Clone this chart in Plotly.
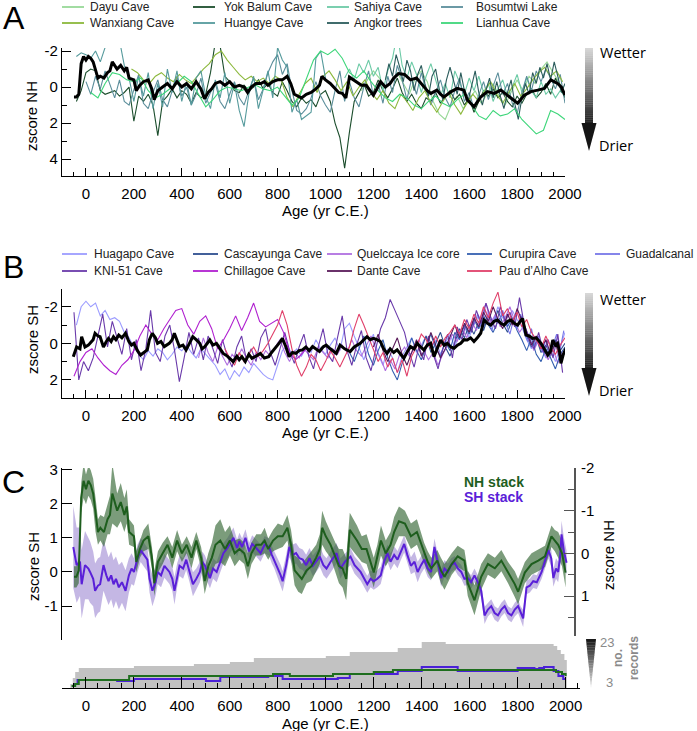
import plotly.graph_objects as go

# ======================= DATA =======================
AGE_TICKS = [0, 200, 400, 600, 800, 1000, 1200, 1400, 1600, 1800, 2000]

# ---- Panel A: NH records (z-score, positive = drier); start year, step, values
DAYU_START, DAYU_STEP = 1150, 25
DAYU = [0.2, -0.4, -0.9, -0.5, 0.1, -0.3, -0.8, -0.2, 0.4, -0.5,
        -0.9, -0.3, 0.8, 1.5, 1.8, 1.0, 0.5, 1.2, 0.7, 0.2,
        0.9, 0.4, -0.2, 0.5, 1.0, 0.3, -0.4, 0.2, -0.6, -0.2,
        -1.0, -1.4, -0.8, -0.3, 0.4]

YOK_START, YOK_STEP = -40, 20
YOK_BALUM = [0.8, 0.2, -0.8, -1.0, -0.9, 0.2, 0.4, 0.3, 0.2, 0.5,
             0.3, 0.0, 1.9, 0.5, 0.8, 0.4, 1.0, 2.7, 0.8, 0.5,
             0.1, 0.6, 0.2, 0.4, 0.9, 0.3, 0.6, 0.4, -0.8, -2.5,
             -2.3, -0.6, -0.3, 0.2, 0.3, -0.1, 0.2, 0.0, -0.4, 0.1,
             -0.2, 0.3, 0.5, -0.3, 0.2, 0.8, 1.1, 0.6, 0.9, 0.7,
             1.1, 0.4, 0.2, 0.8, 2.0, 2.8, 4.5, 2.5, 0.8, 0.3,
             -0.2, 0.5, 0.3, -0.4, 0.2, 0.6, 0.1, -0.5, 0.3, 0.8,
             0.4, 0.9, 1.2, 0.6, 0.8, 0.3, 0.9, 0.5, 0.2, 0.7,
             0.4, 1.0, 0.6, 1.4, 0.8, 0.2, 0.5, 0.1, 0.6, 0.3,
             0.8, 1.1, 0.5, 0.9, 0.4, 0.1, 0.6, 0.3, -0.2, 0.4,
             -0.5, 0.1, 0.6]

SAHIYA_START, SAHIYA_STEP = 1080, 20
SAHIYA = [-0.5, -1.0, -0.4, -1.3, -0.8, -1.5, -0.6, -1.1, 0.2, -0.9,
          -1.6, -3.0, -1.2, -0.5, -1.4, -0.7, 0.3, -0.6, -1.3, -0.4,
          0.5, -0.2, 0.6, -0.9, -0.3, 0.4, -0.5, 0.2, -0.6, 0.3,
          -0.2, 0.8, 0.1, -0.4, 0.5, 0.0, -0.7, 0.3, -0.5, 0.2,
          0.6, -0.3, 0.4, 0.1, 0.6, 0.2, 0.5]

BOSUMTWI_START, BOSUMTWI_STEP = 0, 20
BOSUMTWI = [-0.3, 0.4, -0.6, 0.1, -0.9, -0.2, 0.6, -0.4, 0.8, 1.0,
            0.2, -0.7, 0.9, 1.2, 0.3, -0.4, 0.7, 1.1, 0.2, -0.6,
            0.5, 0.0, 1.0, 0.4, -0.5, 0.9, 0.3, -0.2, 0.8, 1.2,
            0.4, -0.3, 0.6, 1.0, 0.2, -0.5, 0.7, 0.1, -0.8, -1.4,
            -1.8, -0.7, -1.3, 0.2, 1.3, 1.5, 1.2, 0.6, -0.3, 0.5,
            1.0, 1.4, 0.2, -0.9, 0.8, -0.3, 0.6, 1.1, 0.0, -0.9,
            0.5, -0.2, 0.9, -0.6, 0.3, -1.2, -0.4, 0.7, -0.5, 0.4,
            -0.8, 0.2, 1.0, 0.3, -0.4, 0.6, 1.1, 0.2, -0.5, 0.8,
            0.3, 1.2, 0.5, -0.3, 0.7, 0.0, -0.8, 0.4, -0.2, 0.9,
            1.5, 0.3, -0.6, 0.2, -0.9, -0.3, -1.0, -0.5, 0.1, -0.7,
            0.9]

WANXIANG_START, WANXIANG_STEP = 190, 25
WANXIANG = [-1.0, -0.8, -0.4, -0.2, -0.6, -0.8, -0.5, -0.3, -0.7, -0.4,
            -0.2, -0.6, -1.0, -1.3, -1.8, -2.0, -1.5, -1.1, -0.7, -0.4,
            -0.6, -0.3, -0.5, -0.2, -0.6, -0.4, 0.6, 1.1, 0.4, -0.2,
            -0.5, 0.3, -0.6, -0.9, -0.4, 0.2, -0.3, 0.5, 0.0, -0.4,
            0.3, 0.7, 0.2, 0.9, 1.2, 0.4, 0.8, 1.3, 0.6, 0.2,
            0.9, 1.4, 0.8, 0.3, 1.0, 1.5, 0.9, 0.4, 0.8, 0.2,
            -0.3, 0.4, 0.9, 0.3, -0.2, 0.5, 0.1, -0.4, -0.8, -1.1,
            -0.6, -0.9, -0.3]

HUANGYE_START, HUANGYE_STEP = -40, 20
HUANGYE = [-1.7, -1.9, -1.8, -1.6, -2.0, -1.4, -2.2, -3.0, -2.2, -2.6,
           -1.2, -0.5, 0.8, -0.6, 0.5, -0.8, 1.2, -0.2, 1.1, -1.0,
           0.3, -0.9, 0.8, -0.3, 1.0, -0.5, -0.9, 0.5, 1.2, -0.4,
           0.6, -0.8, 0.9, -0.2, 1.3, 2.2, 0.4, -0.6, 1.2, 0.1,
           -0.9, 0.6, -2.2, -1.5, -1.1, 1.4, 0.7, 1.8, 1.6, 1.4,
           -1.6, -2.0, -0.5]

ANGKOR_START, ANGKOR_STEP = 1250, 15
ANGKOR = [-0.4, -1.3, -0.6, -1.8, -1.1, -0.3, -1.5, -0.9, 0.2, -0.7,
          -1.2, -0.2, 0.5, -0.6, -1.0, 0.1, 0.7, -0.4, -1.1, -0.3,
          0.4, -0.8, 0.2, 0.8, -0.1, -0.9, 0.3, 1.0, 0.2, -0.5,
          0.6, -0.3, 0.5, 1.2, 0.3, -0.4, 0.9, 1.8, 0.6, -0.2,
          0.4, -0.8, -0.2, -1.1, -0.5, -1.3, -0.4, -1.4, -0.6, 0.3,
          -0.2]

LIANHUA_START, LIANHUA_STEP = 20, 30
LIANHUA = [0.3, 0.6, -0.2, -0.8, -0.7, -0.4, -0.3, -0.5, 0.2, 0.6,
           0.4, 0.1, -0.2, -0.6, -0.3, 0.4, 1.1, 0.7, 0.2, 0.0,
           0.1, 0.2, 0.0, -0.1, 0.1, 0.2, 0.0, 0.5, 1.0, 0.6,
           -0.5, -1.5, -2.0, -1.8, -2.1, -1.6, -0.8, -0.5, -0.9, -0.3,
           0.2, 0.6, 0.8, 0.4, 0.6, 1.0, 1.2, 0.8, 0.5, 0.9,
           1.1, 0.7, 0.4, 1.0, 1.6, 1.8, 1.3, 1.6, 1.5, 1.2,
           1.8, 2.2, 2.6, 2.4, 1.3, 1.5, 1.8]

# ---- NH stack (black in A, green in C) with uncertainty
NH_YEARS = [-50, -40, -30, -20, -10, 0, 10, 20, 30, 40,
            50, 60, 75, 90, 100, 110, 120, 130, 145, 160,
            170, 180, 200, 210, 225, 240, 260, 275, 285, 300,
            320, 340, 360, 380, 400, 420, 440, 460, 480, 495,
            510, 525, 540, 560, 580, 600, 620, 640, 660, 675,
            690, 710, 730, 745, 760, 780, 800, 820, 840, 855,
            870, 885, 900, 920, 940, 960, 975, 985, 1000, 1020,
            1040, 1055, 1070, 1085, 1100, 1130, 1150, 1170, 1200, 1215,
            1230, 1250, 1270, 1285, 1305, 1330, 1355, 1380, 1410, 1425,
            1440, 1465, 1480, 1495, 1525, 1550, 1578, 1592, 1620, 1648,
            1676, 1705, 1732, 1760, 1788, 1802, 1830, 1858, 1886, 1914,
            1941, 1955, 1969, 1985, 2000]
NH_STACK = [0.55, 0.55, 0.4, -1.3, -1.7, -1.5, -1.7, -1.6, -1.4, -0.9,
            -0.5, -0.6, -0.5, -0.8, -0.9, -1.4, -1.2, -1.0, -1.2, -0.9,
            -1.1, -0.5, -0.4, 0.2, -0.1, -0.3, -0.4, 0.1, 0.7, 0.2,
            0.0, -0.2, 0.1, -0.3, 0.0, -0.2, 0.1, -0.3, 0.1, 0.65,
            0.3, 0.1, -0.2, -0.3, -0.1, -0.3, 0.0, -0.1, 0.0, 0.3,
            0.0, -0.2, -0.2, -0.3, -0.1, -0.3, -0.4, -0.4, -0.6, -0.2,
            0.4, 0.5, 0.6, 0.4, 0.3, 0.1, -0.1, -0.6, -0.4, -0.2,
            0.1, 0.3, 0.35, 0.6, -0.55, -0.3, -0.1, -0.1, 0.45, 0.1,
            -0.3, 0.0, -0.2, -0.5, -0.75, -0.7, -0.4, -0.5, 0.0, 0.2,
            0.35, 0.17, 0.4, 0.55, 0.25, 0.07, 0.17, 0.7, 1.1, 0.55,
            0.25, 0.35, 0.17, 0.45, 0.72, 0.9, 0.45, 0.25, 0.17, 0.07,
            -0.4, -0.3, -0.2, 0.0, 0.45]
NH_ERR = [0.25, 0.25, 0.3, 0.35, 0.4, 0.35, 0.35, 0.35, 0.35, 0.4,
          0.3, 0.3, 0.35, 0.35, 0.45, 0.7, 0.55, 0.4, 0.45, 0.4,
          0.4, 0.3, 0.25, 0.25, 0.2, 0.25, 0.3, 0.25, 0.3, 0.25,
          0.25, 0.2, 0.25, 0.25, 0.2, 0.2, 0.25, 0.2, 0.25, 0.3,
          0.3, 0.35, 0.45, 0.5, 0.4, 0.35, 0.3, 0.25, 0.25, 0.3,
          0.25, 0.25, 0.25, 0.3, 0.25, 0.25, 0.3, 0.25, 0.3, 0.35,
          0.35, 0.4, 0.35, 0.3, 0.35, 0.3, 0.35, 0.4, 0.35, 0.3,
          0.35, 0.4, 0.45, 0.5, 0.4, 0.35, 0.3, 0.35, 0.35, 0.3,
          0.35, 0.3, 0.3, 0.35, 0.35, 0.3, 0.3, 0.3, 0.25, 0.25,
          0.25, 0.25, 0.3, 0.3, 0.25, 0.25, 0.25, 0.3, 0.35, 0.3,
          0.25, 0.25, 0.25, 0.25, 0.3, 0.3, 0.25, 0.25, 0.25, 0.25,
          0.25, 0.25, 0.3, 0.3, 0.35]

# ---- Panel B: SH records
HUAGAPO_START, HUAGAPO_STEP = -40, 20
HUAGAPO = [-1.0, -2.0, -2.3, -2.0, -2.2, -1.5, -1.8, -1.3, -1.4, -1.2,
           -0.6, -0.3, 0.2, 0.6, 0.9, 0.4, 0.7, 0.3, 0.5, 0.9,
           0.6, 0.2, 0.4, 0.1, 0.5, 0.8, 0.3, 0.6, 0.9, 1.2,
           1.7, 1.4, 2.0, 1.5, 1.8, 1.3, 1.6, 1.1, 1.4, 1.7,
           1.9, 2.0, 1.2, 0.4, 0.1, 0.6, 0.3, 0.7, 0.2, 0.5,
           -0.2, 0.3, 0.6, 0.1, -0.3, 0.4, -0.8, -1.1, -0.4, 0.3,
           0.9, 0.2, -0.5, 0.6, 1.2, 0.3, 0.8, 1.6, 0.7, 0.2,
           -0.3, 0.5, 0.1, -0.4, 0.3, -0.2, 0.6, 0.0, -0.5, 0.2,
           -0.6, -0.9, -0.3, -1.1, -1.5, -0.8, -1.7, -1.2, -2.0, -1.4,
           -1.0, -1.8, -1.3, -0.9, -0.2, 0.3, -0.4, 0.2, 0.8, 0.4,
           1.0, 0.2, -0.6]

CASCAYUNGA_START, CASCAYUNGA_STEP = 1400, 20
CASCAYUNGA = [0.3, -0.4, 0.5, 0.0, -0.6, 0.2, 0.7, -0.1, -0.8, -0.3,
              -1.0, -0.5, -1.2, -0.7, -1.5, -1.0, -1.8, -1.1, -0.6, -1.3,
              -0.8, -1.5, -0.4, 0.2, -0.3, 0.5, 0.1, 0.7, -0.2, 0.4,
              0.0]

QUELCCAYA_START, QUELCCAYA_STEP = 470, 20
QUELCCAYA = [0.8, -0.3, 0.5, 1.0, 0.2, 0.7, 1.2, 0.6, 0.9, 0.3,
             0.8, 1.2, 0.5, 0.9, 0.4, 0.7, 0.2, -0.2, 0.5, 1.0,
             0.4, 0.8, 0.3, 0.6, 0.9, 0.2, 0.5, 0.8, 0.3, 0.6,
             0.1, 0.5, -0.2, 0.4, 0.7, 0.1, -0.4, 0.3, 0.8, 1.5,
             0.9, 1.4, 0.6, 0.2, 0.7, 0.3, -0.2, 0.4, 0.9, 0.5,
             1.2, 0.6, 0.1, -0.5, -0.1, -0.8, -0.3, -1.2, -0.7, -1.5,
             -2.2, -1.1, -1.6, -0.9, -1.4, -2.0, -1.2, -0.6, -1.0, -0.3,
             0.4, -0.2, 0.5, 0.9, 0.3, 1.1, 0.4]

CURUPIRA_START, CURUPIRA_STEP = 1100, 20
CURUPIRA = [0.5, 1.0, 0.3, -0.4, 0.6, 1.2, 0.4, -0.2, 0.8, 1.5,
            2.0, 1.1, 0.5, -0.3, 0.4, 0.9, 0.2, -0.5, 0.3, 0.7,
            -0.1, 0.4, -0.6, -0.2, -1.0, -0.5, -1.3, -0.8, -1.5, -1.0,
            -0.6, -1.2, -1.6, -0.9, -1.4, -0.7, -0.2, 0.4, -0.3, 0.6,
            1.0, 0.3, 0.8, 1.4, 0.6, 0.2]

GUADALCANAL_START, GUADALCANAL_STEP = 1620, 15
GUADALCANAL = [-1.0, -1.6, -0.9, -1.9, -1.3, -0.7, -1.5, -1.1, -1.8, -1.0,
               -0.5, -1.3, -0.8, -1.6, -0.6, -0.1, -0.8, 0.2, -0.4, 0.5,
               -0.2, 0.6, 0.1, -0.5, 0.3, -0.7]

KNI51_START, KNI51_STEP = -50, 20
KNI51 = [-1.7, 2.0, 1.0, 1.5, 0.8, -0.5, -1.6, 0.2, -1.2, -0.3,
         0.6, -0.8, 0.9, -0.2, 1.5, 0.3, -1.8, 0.5, 1.0, -0.4,
         -1.0, 0.4, 2.1, 0.8, -0.6, 0.6, -0.3, 0.9, -0.4, 0.3,
         1.1, -0.2, 0.7, 1.3, 0.2, -0.4, 0.9, 0.3, 1.0, -0.3,
         -0.8, 0.5, 1.2, 0.3, -0.6, 0.4, 1.1, 0.2, -0.5, 0.7,
         1.4, 0.2, -0.8, 0.6, 1.0, -0.3, -1.5, 0.4, 1.2, 0.1,
         -0.7, 0.8, 1.5, 0.3, -0.8, -1.4, -2.4, -1.8, -1.2, -0.6,
         0.5, 1.3, 0.2, 0.9, -0.4, 0.6, 1.4, 0.3, -0.5, 0.8,
         -0.9, -0.2, -1.3, -0.6, -1.8, -1.1, -2.2, -1.4, -0.8, -2.0,
         -1.2, -1.7, -0.9, -2.5, -1.0, -0.4, 0.3, -0.6, 0.5, -0.2,
         0.8, -0.5, 1.6]

CHILLAGOE_START, CHILLAGOE_STEP = -50, 25
CHILLAGOE = [1.8, 1.0, 0.5, 0.3, 0.8, 1.2, 1.5, 1.7, 1.2, 0.9,
             0.4, -0.4, -1.0, -0.5, -0.2, -0.8, -1.3, -1.8, -1.9, -1.0,
             -0.5, -1.2, -1.5, -0.8, 0.3, -0.2, -0.8, -1.5, -0.7, -1.4,
             -2.2, -1.2, -0.9, -1.1, -1.3, -0.6, 0.5, 0.9, 0.6, 0.2]

DANTE_START, DANTE_STEP = 1200, 20
DANTE = [0.2, -0.5, 0.4, 1.0, 0.3, -0.3, 0.6, 1.2, 0.5, -0.2,
         0.7, 0.2, -0.6, 0.1, 0.8, 0.3, -0.4, -1.0, -0.3, -1.1,
         -0.6, -1.4, -0.9, -1.7, -1.2, -2.0, -1.3, -0.8, -1.6, -1.0,
         -1.9, -1.2, -0.5, 0.1, -0.4, 0.3, -0.2, 0.6, 0.0, 0.9,
         0.4]

PAU_START, PAU_STEP = 580, 20
PAU_DALHO = [0.3, 0.8, 1.2, 0.5, 1.0, 0.6, 0.2, 0.7, 0.4, 0.0,
             -0.5, -1.0, -1.8, -1.0, 0.3, 1.2, 1.8, 1.3, 0.6, 0.9,
             1.5, 1.0, 0.4, 0.8, 1.3, 0.7, 0.2, -0.8, -1.6, -1.0,
             -0.3, 0.4, 1.0, 0.5, 1.3, 0.8, 1.6, 0.9, 1.8, 0.7,
             0.2, -0.5, -0.2, 0.3, -0.4, 0.2, -0.3, -0.6, -1.0, -0.5,
             -1.3, -0.8, -1.6, -1.1, -2.0, -1.4, -2.2, -2.8, -1.5, -1.9,
             -1.2, -1.7, -0.9, -1.3, -0.6, -0.2, 0.3, -0.4, 0.2, 0.6,
             0.1, -0.3]

# ---- SH stack (black in B, purple in C) with uncertainty
SH_YEARS = [-53, -39, -25, -18, -4, 10, 17, 30, 38, 50,
            59, 73, 85, 94, 105, 115, 125, 137, 150, 165,
            179, 190, 200, 215, 228, 242, 256, 265, 277, 290,
            299, 313, 327, 348, 360, 369, 380, 390, 405, 418,
            432, 446, 460, 475, 485, 496, 517, 530, 545, 560,
            573, 590, 605, 615, 630, 640, 651, 665, 680, 693,
            710, 728, 745, 763, 775, 785, 800, 812, 820, 835,
            848, 862, 876, 890, 904, 918, 932, 946, 960, 975,
            990, 1003, 1020, 1045, 1061, 1080, 1103, 1120, 1145, 1160,
            1173, 1187, 1200, 1215, 1229, 1243, 1257, 1270, 1285, 1299,
            1313, 1327, 1340, 1355, 1370, 1383, 1397, 1411, 1425, 1439,
            1453, 1467, 1481, 1495, 1509, 1523, 1537, 1551, 1565, 1578,
            1592, 1606, 1620, 1634, 1648, 1662, 1676, 1690, 1704, 1718,
            1732, 1746, 1760, 1774, 1788, 1802, 1812, 1823, 1837, 1851,
            1865, 1880, 1900, 1914, 1928, 1940, 1949, 1960, 1969, 1978,
            1983, 1993, 2004]
SH_STACK = [0.73, 0.2, 0.3, -0.36, 0.2, 0.1, 0.0, -0.2, -0.55, -0.4,
            -0.36, 0.2, -0.1, -0.27, -0.1, -0.36, -0.2, -0.45, -0.3, -0.55,
            -0.1, 0.1, 0.0, 0.4, 0.64, 0.5, 0.36, -0.2, -0.55, -0.3,
            0.0, -0.1, 0.18, 0.0, -0.2, -0.55, -0.1, 0.18, 0.1, 0.36,
            0.0, -0.36, -0.2, 0.0, 0.3, 0.18, -0.18, 0.1, 0.0, 0.3,
            0.55, 0.7, 0.9, 1.0, 0.7, 0.9, 0.73, 1.0, 0.6, 0.82,
            0.7, 0.55, 0.8, 0.73, 0.5, 0.36, 0.1, -0.1, -0.27, 0.2,
            0.73, 0.5, 0.55, 0.4, 0.36, 0.2, 0.4, 0.18, 0.3, 0.45,
            0.2, 0.1, 0.3, 0.55, 0.1, 0.3, 0.45, 0.2, 0.0, -0.2,
            -0.36, -0.2, -0.27, -0.2, -0.1, 0.3, 0.55, 0.3, 0.5, 0.36,
            0.6, 0.82, 0.5, 0.18, 0.3, 0.0, 0.2, 0.36, 0.1, 0.0,
            0.73, 0.3, -0.18, 0.1, 0.0, 0.2, 0.27, 0.1, 0.0, -0.2,
            -0.18, -0.3, -0.1, -0.3, -0.55, -1.27, -1.1, -1.0, -1.2, -1.27,
            -1.1, -1.0, -1.2, -1.27, -1.1, -1.0, -1.2, -1.36, -0.45, -0.4,
            -0.27, -0.3, 0.0, 0.3, 0.64, 0.4, -0.18, 0.1, 0.0, 0.5,
            1.1, 0.6, 0.27]
SH_ERR = [1.2, 1.1, 1.0, 1.0, 1.0, 0.9, 0.9, 0.8, 0.8, 0.8,
          0.8, 0.75, 0.7, 0.7, 0.7, 0.7, 0.65, 0.65, 0.6, 0.6,
          0.5, 0.45, 0.4, 0.4, 0.35, 0.35, 0.35, 0.4, 0.45, 0.4,
          0.35, 0.35, 0.35, 0.35, 0.35, 0.4, 0.35, 0.3, 0.3, 0.3,
          0.3, 0.35, 0.3, 0.3, 0.3, 0.3, 0.3, 0.3, 0.3, 0.3,
          0.3, 0.3, 0.3, 0.3, 0.25, 0.25, 0.25, 0.25, 0.25, 0.25,
          0.25, 0.25, 0.25, 0.25, 0.25, 0.25, 0.3, 0.3, 0.3, 0.3,
          0.3, 0.3, 0.3, 0.3, 0.3, 0.3, 0.3, 0.3, 0.3, 0.3,
          0.3, 0.3, 0.3, 0.3, 0.3, 0.25, 0.25, 0.25, 0.25, 0.25,
          0.25, 0.25, 0.25, 0.25, 0.25, 0.25, 0.25, 0.25, 0.25, 0.25,
          0.25, 0.25, 0.25, 0.25, 0.3, 0.3, 0.25, 0.25, 0.25, 0.25,
          0.25, 0.25, 0.25, 0.25, 0.25, 0.2, 0.2, 0.2, 0.2, 0.2,
          0.2, 0.2, 0.2, 0.2, 0.2, 0.25, 0.2, 0.2, 0.2, 0.2,
          0.2, 0.2, 0.2, 0.2, 0.2, 0.2, 0.2, 0.25, 0.2, 0.2,
          0.2, 0.2, 0.2, 0.2, 0.25, 0.25, 0.25, 0.3, 0.3, 0.35,
          0.4, 0.4, 0.35]

# ---- Number of records
ALL_COUNT_YEARS = [-65, -55, -45, -30, 200, 450, 600, 700, 1000, 1100,
                   1300, 1400, 1500, 1950, 1965, 1980, 1995, 2005]
ALL_COUNT = [2, 5, 8, 10, 11, 12, 13, 15, 16, 18,
             20, 23, 22, 21, 19, 17, 14, 0]
NH_COUNT_YEARS = [-60, -45, -30, 180, 780, 850, 1030, 1200, 1280, 1960, 1985, 2000]
NH_COUNT = [1, 2, 4, 6, 7, 6, 7, 8, 9, 8, 7, 6]
SH_COUNT_YEARS = [-50, -35, 130, 200, 500, 560, 760, 820, 1050, 1100,
                  1300, 1400, 1550, 1800, 1870, 1890, 1910, 1950, 1970, 1990, 2000]
SH_COUNT = [2, 4, 3.5, 4.5, 3.5, 5.5, 6, 4.5, 5, 7,
            8.5, 10.5, 8.5, 10, 9.5, 10, 10.5, 8.5, 6, 4.5, 4.5]

# ======================= STYLE / LAYOUT =======================
W, H = 697, 731
FONT = "Liberation Sans"


def px(x):
    return x / W


def py(y):
    return 1 - y / H


NH_RECORDS = [
    ("Dayu Cave", DAYU_START, DAYU_STEP, DAYU, "#98d898"),
    ("Yok Balum Cave", YOK_START, YOK_STEP, YOK_BALUM, "#1b4d2c"),
    ("Sahiya Cave", SAHIYA_START, SAHIYA_STEP, SAHIYA, "#6ccaa6"),
    ("Bosumtwi Lake", BOSUMTWI_START, BOSUMTWI_STEP, BOSUMTWI, "#5b8e9b"),
    ("Wanxiang Cave", WANXIANG_START, WANXIANG_STEP, WANXIANG, "#8cb83c"),
    ("Huangye Cave", HUANGYE_START, HUANGYE_STEP, HUANGYE, "#559a9c"),
    ("Angkor trees", ANGKOR_START, ANGKOR_STEP, ANGKOR, "#2b5c5c"),
    ("Lianhua Cave", LIANHUA_START, LIANHUA_STEP, LIANHUA, "#3ed67a"),
]
SH_RECORDS = [
    ("Huagapo Cave", HUAGAPO_START, HUAGAPO_STEP, HUAGAPO, "#9c9cff"),
    ("Cascayunga Cave", CASCAYUNGA_START, CASCAYUNGA_STEP, CASCAYUNGA, "#2e4f8f"),
    ("Quelccaya Ice core", QUELCCAYA_START, QUELCCAYA_STEP, QUELCCAYA, "#b070e0"),
    ("Curupira Cave", CURUPIRA_START, CURUPIRA_STEP, CURUPIRA, "#3560b0"),
    ("Guadalcanal", GUADALCANAL_START, GUADALCANAL_STEP, GUADALCANAL, "#7878e8"),
    ("KNI-51 Cave", KNI51_START, KNI51_STEP, KNI51, "#6a3aaa"),
    ("Chillagoe Cave", CHILLAGOE_START, CHILLAGOE_STEP, CHILLAGOE, "#b020d0"),
    ("Dante Cave", DANTE_START, DANTE_STEP, DANTE, "#5a1a5a"),
    ("Pau d\u2019Alho Cave", PAU_START, PAU_STEP, PAU_DALHO, "#e0406a"),
]

fig = go.Figure()


def add_record(start, step, vals, color, xa, ya, width=1.1):
    years = [start + step * i for i in range(len(vals))]
    fig.add_trace(go.Scatter(x=years, y=vals, mode="lines", xaxis=xa, yaxis=ya,
                             line=dict(color=color, width=width), hoverinfo="skip",
                             showlegend=False))


def add_band(years, vals, errs, color, xa, ya):
    hi = [v + e for v, e in zip(vals, errs)]
    lo = [v - e for v, e in zip(vals, errs)]
    fig.add_trace(go.Scatter(x=list(years) + list(years[::-1]), y=hi + lo[::-1],
                             fill="toself", fillcolor=color, mode="lines",
                             line=dict(width=0), xaxis=xa, yaxis=ya,
                             hoverinfo="skip", showlegend=False))


# Panel A
for name, s, st, v, c in NH_RECORDS:
    add_record(s, st, v, c, "x", "y")
fig.add_trace(go.Scatter(x=NH_YEARS, y=NH_STACK, mode="lines", xaxis="x", yaxis="y",
                         line=dict(color="black", width=3), showlegend=False))
# Panel B
for name, s, st, v, c in SH_RECORDS:
    add_record(s, st, v, c, "x2", "y2")
fig.add_trace(go.Scatter(x=SH_YEARS, y=SH_STACK, mode="lines", xaxis="x2", yaxis="y2",
                         line=dict(color="black", width=3), showlegend=False))
# Panel C
add_band(SH_YEARS, SH_STACK, SH_ERR, "rgba(125,95,195,0.45)", "x3", "y3")
add_band(NH_YEARS, NH_STACK, NH_ERR, "rgba(55,105,55,0.66)", "x3", "y4")
fig.add_trace(go.Scatter(x=SH_YEARS, y=SH_STACK, mode="lines", xaxis="x3", yaxis="y5",
                         line=dict(color="#5a20d8", width=2), showlegend=False))
fig.add_trace(go.Scatter(x=NH_YEARS, y=NH_STACK, mode="lines", xaxis="x3", yaxis="y6",
                         line=dict(color="#1e5e1e", width=2), showlegend=False))
# Records count
fig.add_trace(go.Scatter(x=ALL_COUNT_YEARS, y=ALL_COUNT, mode="lines", line_shape="hv",
                         fill="tozeroy", fillcolor="#c2c2c2", line=dict(width=0, color="#c2c2c2"),
                         xaxis="x4", yaxis="y7", showlegend=False))
fig.add_trace(go.Scatter(x=SH_COUNT_YEARS, y=SH_COUNT, mode="lines", line_shape="hv",
                         line=dict(color="#4a20d8", width=2), xaxis="x4", yaxis="y7", showlegend=False))
fig.add_trace(go.Scatter(x=NH_COUNT_YEARS, y=NH_COUNT, mode="lines", line_shape="hv",
                         line=dict(color="#1e6e1e", width=2), xaxis="x4", yaxis="y7", showlegend=False))

TICKFONT = dict(family=FONT, size=15, color="black")
AXLINE = dict(showline=True, linecolor="black", linewidth=1.3, showgrid=False, zeroline=False,
              automargin=False,
              ticks="inside", tickcolor="black", tickwidth=1.2, tickfont=TICKFONT)


def xaxis_cfg(x0, x1, r, anchor, ticklen=8, minorlen=4):
    d = dict(AXLINE)
    d.update(domain=[px(x0), px(x1)], range=r, anchor=anchor, tickmode="array",
             tickvals=AGE_TICKS, ticktext=[str(t) for t in AGE_TICKS], ticklen=ticklen,
             ticklabelstandoff=4,
             minor=dict(dtick=50, tick0=0, ticks="inside", ticklen=minorlen,
                        tickcolor="black", tickwidth=1))
    return d


def yaxis_cfg(y0, y1, r, anchor, vals, minor_vals, ticklen=9):
    d = dict(AXLINE)
    d.update(domain=[py(y1), py(y0)], range=r, anchor=anchor, tickmode="array",
             tickvals=vals, ticktext=[str(v) for v in vals], ticklen=ticklen,
             ticklabelstandoff=0,
             minor=dict(tickmode="array", tickvals=minor_vals, ticks="inside", ticklen=5,
                        tickcolor="black", tickwidth=1))
    return d


layout = dict(
    width=W, height=H, margin=dict(l=0, r=0, t=0, b=0, pad=0, autoexpand=False),
    paper_bgcolor="white", plot_bgcolor="white", showlegend=False,
    font=dict(family=FONT, size=15, color="black"),
    xaxis=xaxis_cfg(62, 565, [-100, 2000], "y"),
    yaxis=yaxis_cfg(48, 176, [4.94, -2.17], "x", [-2, 0, 2, 4], [-1, 1, 3]),
    xaxis2=xaxis_cfg(62, 565, [-100, 2000], "y2"),
    yaxis2=yaxis_cfg(289, 398, [2.99, -2.97], "x2", [-2, 0, 2], [-1, 1]),
    xaxis3=dict(domain=[px(62), px(574)], range=[-100, 2035], anchor="y3", visible=False,
                automargin=False),
    yaxis3=dict(AXLINE, domain=[py(640), py(468)], range=[-1.99, 3.04], anchor="x3",
                tickmode="array", tickvals=[-1, 0, 1, 2, 3], ticktext=["-1", "0", "1", "2", "3"],
                ticklen=10, ticklabelstandoff=0),
    yaxis4=dict(AXLINE, overlaying="y3", side="right", anchor="x3", range=[2.03, -2.0],
                linecolor="#555555", linewidth=2, tickcolor="#555555",
                tickmode="array", tickvals=[-2, -1, 0, 1], ticktext=["-2", "-1", "0", "1"],
                ticklen=10, ticklabelstandoff=2,
                minor=dict(tickmode="array", tickvals=[-1.5, -0.5, 0.5, 1.5], ticks="inside",
                           ticklen=6, tickcolor="#555555", tickwidth=1.2)),
    yaxis5=dict(overlaying="y3", anchor="x3", range=[-1.99, 3.04], visible=False, automargin=False),
    yaxis6=dict(overlaying="y3", anchor="x3", range=[2.03, -2.0], visible=False, automargin=False),
    xaxis4=xaxis_cfg(62, 580, [-100, 2060], "y7", ticklen=11, minorlen=5),
    yaxis7=dict(domain=[py(688), py(636)], range=[0, 26], anchor="x4", visible=False,
                automargin=False),
)
fig.update_layout(**layout)

annotations = []
shapes = []


def text(x, y, s, size=15, color="black", xanchor="center", angle=0, family=FONT, bold=False):
    if bold:
        s = "<b>" + s + "</b>"
    annotations.append(dict(x=px(x), y=py(y), xref="paper", yref="paper", text=s,
                            showarrow=False, xanchor=xanchor, yanchor="middle",
                            textangle=angle, font=dict(family=family, size=size, color=color)))


# panel letters
text(14, 18, "A", size=32, xanchor="center")
text(14, 267, "B", size=32, xanchor="center")
text(14, 482, "C", size=32, xanchor="center")

# axis titles
text(325, 210, "Age (yr C.E.)")
text(325, 432, "Age (yr C.E.)")
text(325, 723, "Age (yr C.E.)")
text(32, 116, "zscore NH", angle=-90)
text(33, 340, "zscore SH", angle=-90)
text(33, 567, "zscore SH", angle=-90)
text(608, 555, "zscore NH", angle=-90)

# stack labels
text(462, 482, "NH stack", size=14, color="#1e5e1e", xanchor="left", bold=True)
text(462, 497, "SH stack", size=14, color="#5a20d8", xanchor="left", bold=True)

# legends (manual)
LEG_FONT = 12
LEG_A_LINE_X = [62, 193, 327, 441]
LEG_A_TEXT_X = [88, 222, 352, 474]
LEG_A_ROW_Y = [7, 23]
for k, (name, _, _, _, c) in enumerate(NH_RECORDS):
    r, col = divmod(k, 4)
    y = LEG_A_ROW_Y[r]
    shapes.append(dict(type="line", xref="paper", yref="paper", x0=px(LEG_A_LINE_X[col]),
                       x1=px(LEG_A_LINE_X[col] + 22), y0=py(y), y1=py(y),
                       line=dict(color=c, width=1.8)))
    text(LEG_A_TEXT_X[col], y, name, size=LEG_FONT, color="#222", xanchor="left")

LEG_B_LINE_X = [62, 193, 327, 467, 595]
LEG_B_TEXT_X = [92, 222, 355, 497, 624]
LEG_B_ROW_Y = [254, 271]
for k, (name, _, _, _, c) in enumerate(SH_RECORDS):
    if k < 5:
        r, col = 0, k
    else:
        r, col = 1, k - 5
    y = LEG_B_ROW_Y[r]
    shapes.append(dict(type="line", xref="paper", yref="paper", x0=px(LEG_B_LINE_X[col]),
                       x1=px(LEG_B_LINE_X[col] + 25), y0=py(y), y1=py(y),
                       line=dict(color=c, width=1.8)))
    text(LEG_B_TEXT_X[col], y, name, size=LEG_FONT, color="#222", xanchor="left")


# Wetter / Drier arrows
def grad_arrow(top, base, tip):
    n = 40
    h = (base - top) / n
    for i in range(n):
        t = i / (n - 1)
        g = int(215 - t * (215 - 35))
        shapes.append(dict(type="rect", xref="paper", yref="paper",
                           x0=px(585), x1=px(593), y0=py(top + (i + 1) * h + 0.3), y1=py(top + i * h),
                           fillcolor=f"rgb({g},{g},{g})", line=dict(width=0)))
    shapes.append(dict(type="path", xref="paper", yref="paper",
                       path=f"M {px(581.5)},{py(base)} L {px(596.5)},{py(base)} L {px(589)},{py(tip)} Z",
                       fillcolor="#151515", line=dict(width=0)))


grad_arrow(48, 123, 151)
grad_arrow(293, 368, 396)
text(598, 53, "Wetter", size=14.5, family="Open Sans", xanchor="left")
text(597, 146, "Drier", size=14.5, family="Open Sans", xanchor="left")
text(598, 299, "Wetter", size=14.5, family="Open Sans", xanchor="left")
text(597, 391, "Drier", size=14.5, family="Open Sans", xanchor="left")

# records wedge
n = 30
top, bot = 639, 688
h = (bot - top) / n
for i in range(n):
    y0 = top + i * h
    y1 = y0 + h + 0.3
    w0 = 5.0 * (bot - y0) / (bot - top)
    w1 = 5.0 * (bot - min(y1, bot)) / (bot - top)
    g = int(25 + (i / (n - 1)) * 200)
    shapes.append(dict(type="path", xref="paper", yref="paper",
                       path=(f"M {px(591 - w0)},{py(y0)} L {px(591 + w0)},{py(y0)} "
                             f"L {px(591 + w1)},{py(y1)} L {px(591 - w1)},{py(y1)} Z"),
                       fillcolor=f"rgb({g},{g},{g})", line=dict(width=0)))
text(598, 642, "23", size=13, color="#8a8a8a", xanchor="left")
text(604, 682, "3", size=13, color="#8a8a8a", xanchor="left")
text(626, 658, "no.<br>records", size=12, color="#8a8a8a", angle=-90, bold=True)

fig.update_layout(annotations=annotations, shapes=shapes)
fig.write_html("out.html", config={"displayModeBar": False},
               post_script="document.body.style.margin='0px';")
